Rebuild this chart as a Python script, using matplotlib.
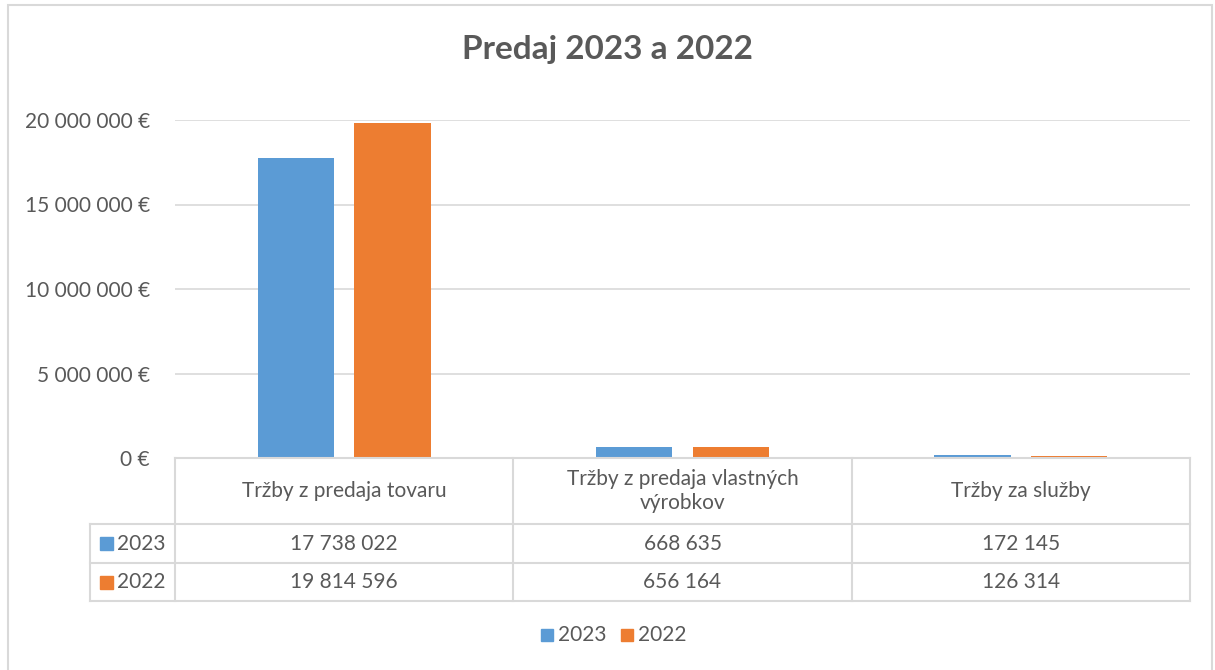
import numpy as np
import matplotlib.pyplot as plt
from matplotlib.lines import Line2D
from matplotlib.patches import Rectangle

plt.rcParams['font.family'] = ['Lato', 'DejaVu Sans']

categories = ['Tržby z predaja tovaru', 'Tržby z predaja vlastných\nvýrobkov', 'Tržby za služby']
series_names = ['2023', '2022']
sales_2023 = [17738022, 668635, 172145]
sales_2022 = [19814596, 656164, 126314]
yticks = [0, 5000000, 10000000, 15000000, 20000000]

colors = ['#5B9BD5', '#ED7D31']
txt = '#595959'
grid = '#D9D9D9'
fs = 15

W, H = 1215, 670
fig = plt.figure(figsize=(W / 100, H / 100), dpi=100)


def fx(px):
    return px / W


def fy(py):
    return 1 - py / H


# plot area in pixels
left, right, top, bottom = 175, 1190, 120, 458
ax = fig.add_axes([fx(left), fy(bottom), fx(right - left), (bottom - top) / H])

x = np.arange(len(categories))
bw = 0.225
off = 0.143
ax.bar(x - off, sales_2023, bw, color=colors[0])
ax.bar(x + off, sales_2022, bw, color=colors[1])

ax.set_xlim(-0.5, len(categories) - 0.5)
ax.set_ylim(0, 20000000)
ax.set_yticks(yticks)
ax.set_yticklabels([f'{v:,.0f} €'.replace(',', ' ') for v in yticks])
ax.tick_params(axis='y', length=0, pad=18, labelsize=fs, labelcolor=txt)
ax.tick_params(axis='x', length=0, labelbottom=False)
ax.grid(axis='y', color=grid, lw=1.2)
ax.set_axisbelow(True)
for s in ax.spines.values():
    s.set_visible(False)

# data table below the plot
col_edges = [left, 513, 852, right]
row_edges = [bottom, 524, 563, 601]
key_left = 90
lines = []
for cx in col_edges:
    lines.append(([cx, cx], [row_edges[0], row_edges[-1]]))
lines.append(([key_left, key_left], [row_edges[1], row_edges[-1]]))
lines.append(([left, right], [row_edges[0], row_edges[0]]))
for ry in row_edges[1:]:
    lines.append(([key_left, right], [ry, ry]))
for xs, ys in lines:
    fig.add_artist(Line2D([fx(v) for v in xs], [fy(v) for v in ys], color=grid, lw=1.5))

for i, cat in enumerate(categories):
    cx = (col_edges[i] + col_edges[i + 1]) / 2
    fig.text(fx(cx), fy((row_edges[0] + row_edges[1]) / 2), cat, ha='center', va='center',
             fontsize=fs, color=txt, linespacing=1.3)
    for j, vals in enumerate([sales_2023, sales_2022]):
        cy = (row_edges[j + 1] + row_edges[j + 2]) / 2
        fig.text(fx(cx), fy(cy), f'{vals[i]:,}'.replace(',', ' '), ha='center', va='center',
                 fontsize=fs, color=txt)

for j, name in enumerate(series_names):
    cy = (row_edges[j + 1] + row_edges[j + 2]) / 2
    fig.add_artist(Rectangle((fx(100), fy(cy + 6.5)), 13 / W, 13 / H, color=colors[j]))
    fig.text(fx(117), fy(cy), name, ha='left', va='center', fontsize=fs, color=txt)

# legend
for j, name in enumerate(series_names):
    kx = 541 + j * 80
    fig.add_artist(Rectangle((fx(kx), fy(641)), 12 / W, 12 / H, color=colors[j]))
    fig.text(fx(kx + 17), fy(635), name, ha='left', va='center', fontsize=fs, color=txt)

fig.text(0.5, fy(50), 'Predaj 2023 a 2022', ha='center', va='center', fontsize=24,
         fontweight='bold', color=txt)

# chart border (bottom edge runs off the canvas)
fig.add_artist(Rectangle((fx(8), fy(680)), (1212 - 8) / W, (680 - 5) / H, fill=False,
                         edgecolor=grid, lw=1.5))

fig.savefig('out.png', dpi=100)
